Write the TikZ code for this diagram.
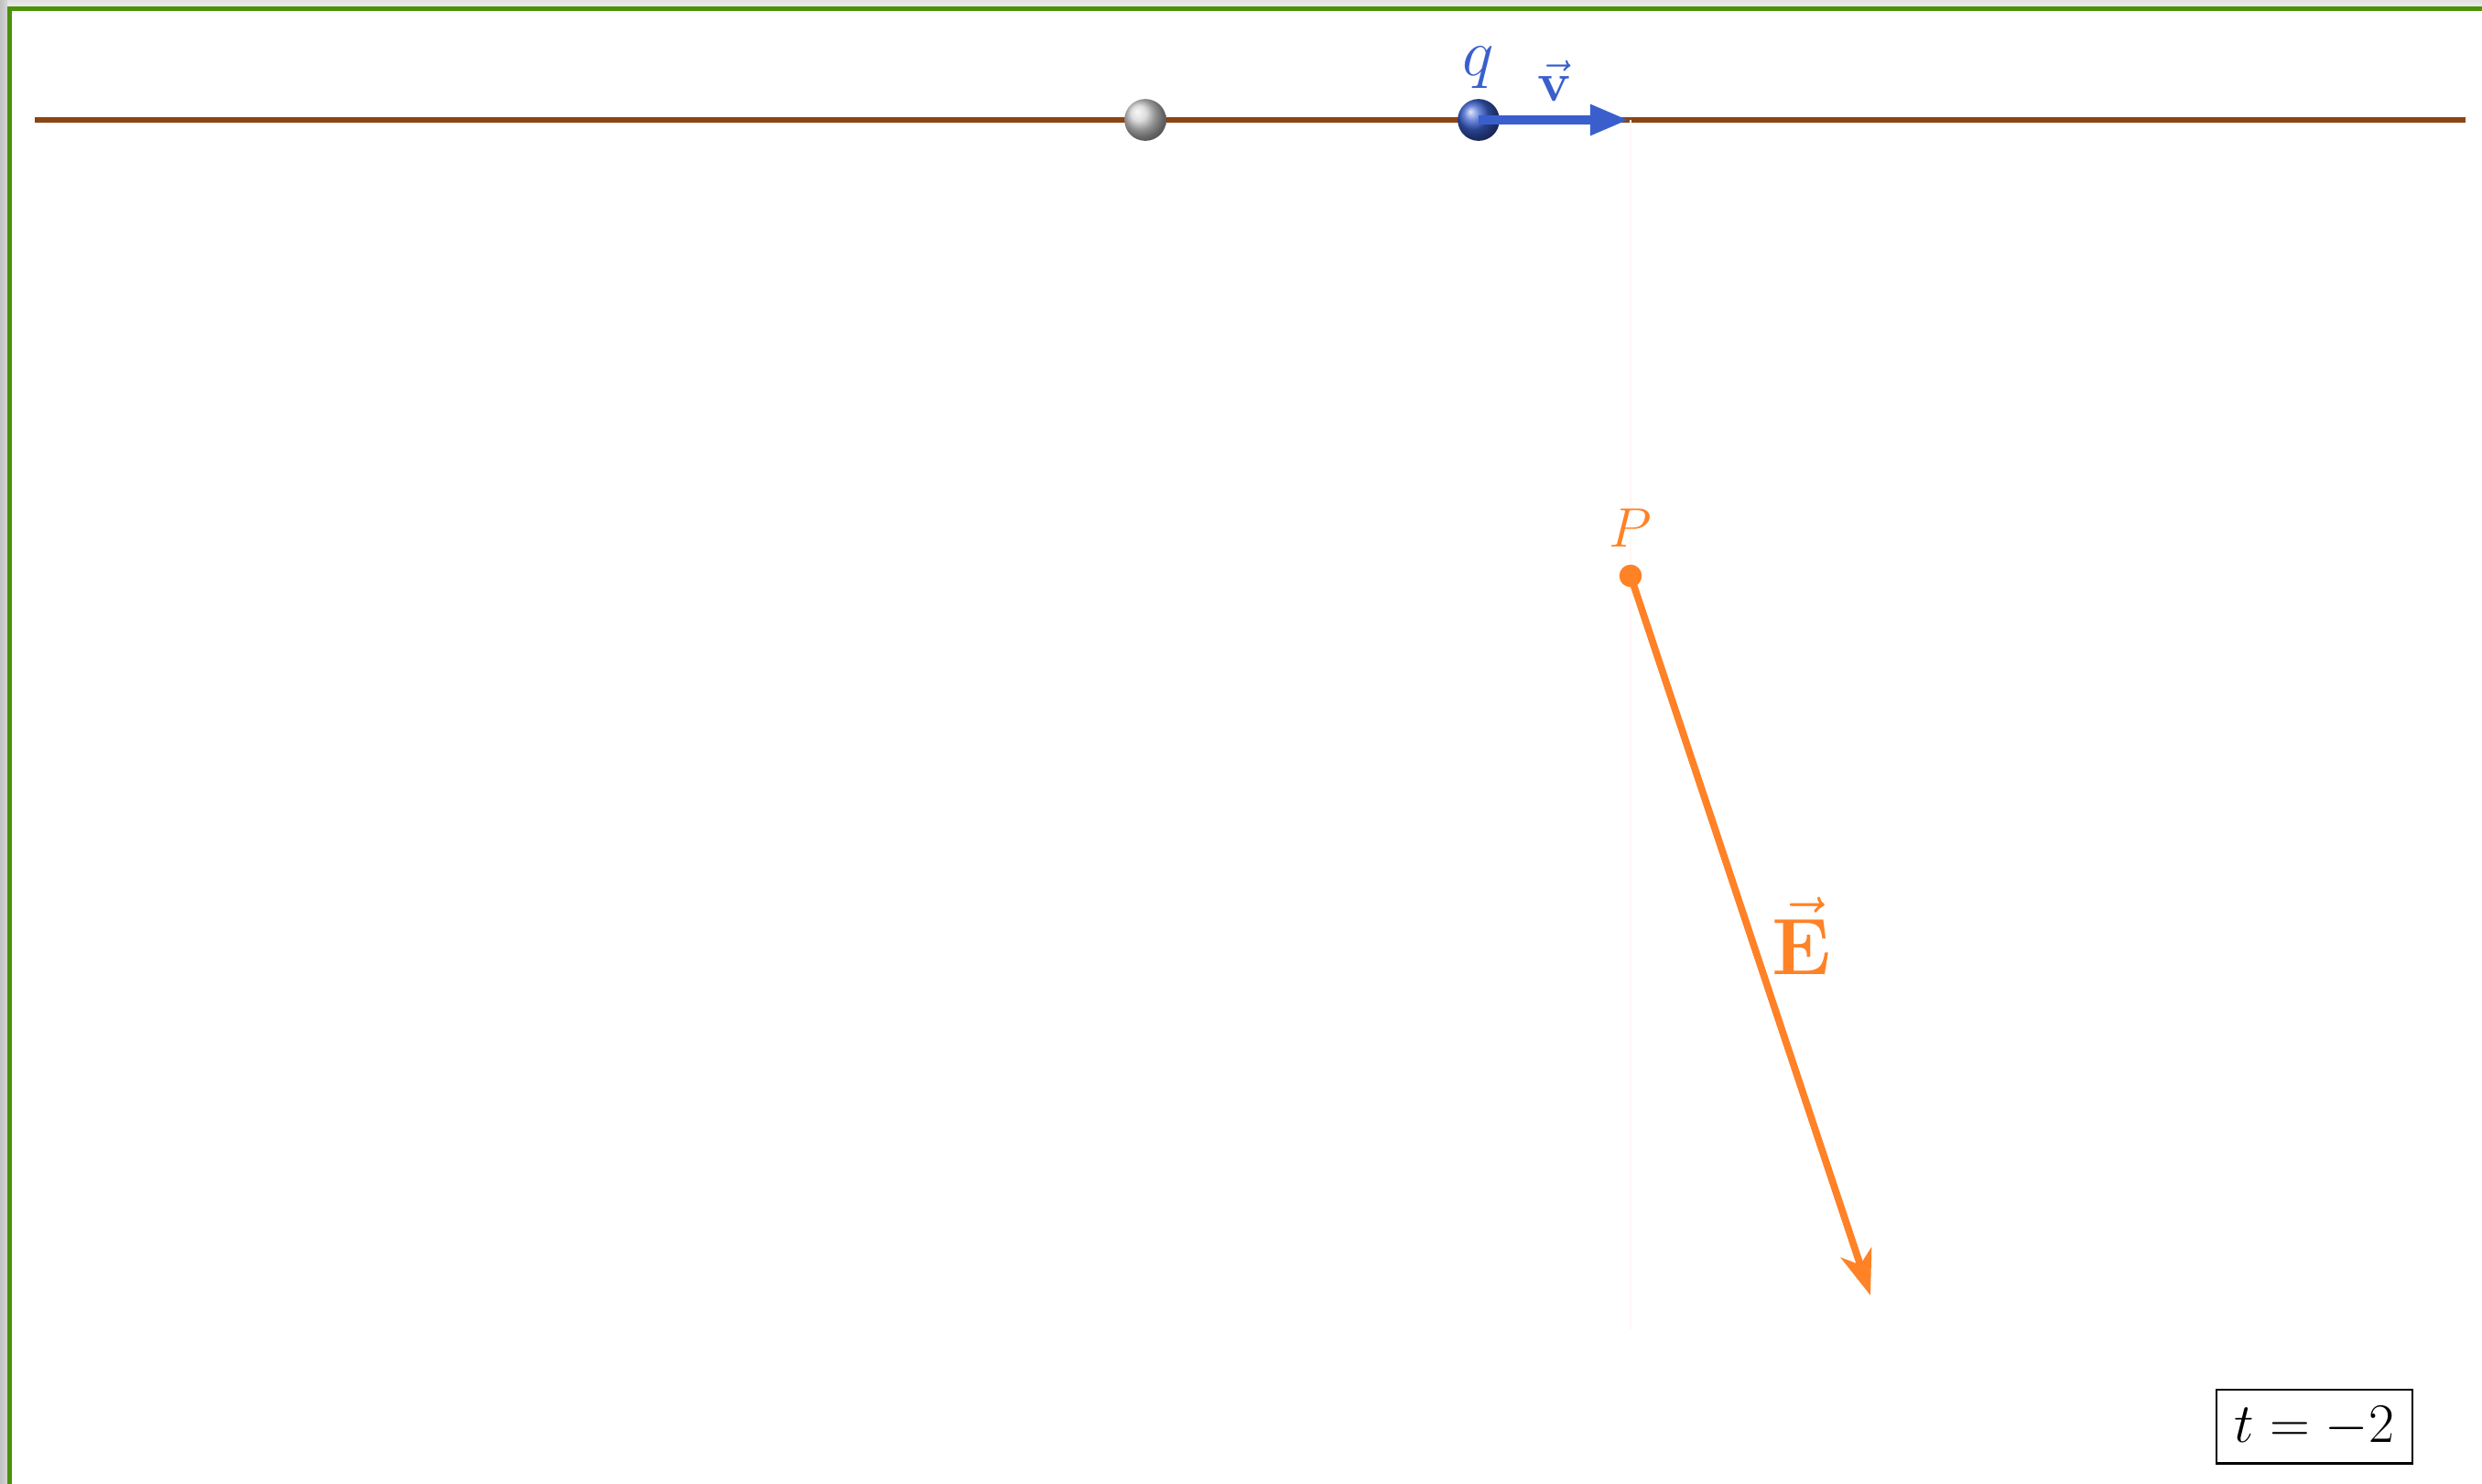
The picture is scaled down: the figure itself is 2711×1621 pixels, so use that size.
\documentclass[tikz,border=0pt]{standalone}
\usepackage{amsmath,amssymb}
\usepackage{xcolor}
\usetikzlibrary{positioning,calc,arrows.meta}

\definecolor{frameGreen}{RGB}{74,145,10}
\definecolor{wireBrown}{RGB}{139,69,19}
\definecolor{chargeBlue}{RGB}{58,95,205}
\definecolor{fieldOrange}{RGB}{255,130,38}

\begin{document}
\begin{tikzpicture}[x=0.01cm, y=-0.01cm,
  ball/.style={circle, inner sep=0pt, minimum size=13pt},
  bigfont/.style={font=\fontsize{23}{27}\selectfont}]
  \useasboundingbox (0,0) rectangle (2711,1621);

  % Window frame (top and left)
  \shade[top color=black!12, bottom color=black!7] (0,0) rectangle (2711,8);
  \shade[left color=black!24, right color=black!16] (0,0) rectangle (8,1621);
  \draw[frameGreen, line width=1.3pt] (10.5,1621) -- (10.5,9.5) -- (2711,9.5);

  % Track of the charge
  \coordinate (trackL) at (38,131);
  \coordinate (trackR) at (2693,131);
  \draw[wireBrown, line width=1.6pt] (trackL) -- (trackR);

  % Faint guide through P
  \coordinate (guideTop) at (1781,131);
  \coordinate (guideBot) at (1781,1452);
  \draw[red!3, line width=0.4pt] (guideTop) -- (guideBot);

  % Retarded position and charge q
  \node[ball, ball color=black!18] (ret) at (1251,131) {};
  \node[ball, ball color=chargeBlue] (q) at (1615,131) {};
  \node[text=chargeBlue, font=\huge] (qlbl) at (1615,74) {$q$};

  % Velocity
  \coordinate (vtip) at (1779,131);
  \draw[chargeBlue, line width=2.8pt, -{Triangle[length=12pt,width=9pt]}] (q.center) -- (vtip);
  \node[text=chargeBlue, font=\LARGE] (vlbl) at (1698,88) {$\vec{\mathbf{v}}$};

  % Field point P and field E
  \node[circle, fill=fieldOrange, inner sep=0pt, minimum size=7pt] (P) at (1781,629) {};
  \node[text=fieldOrange, font=\LARGE] (Plbl) at (1781,577) {$P$};
  \coordinate (Etip) at (2043,1415);
  \draw[fieldOrange, line width=2.2pt, -{Stealth[length=14pt,width=10pt,inset=4pt]}] (P.center) -- (Etip);
  \node[text=fieldOrange, bigfont] (Elbl) at (1968,1022) {$\vec{\mathbf{E}}$};

  % Time
  \node[draw, line width=0.6pt, minimum width=61pt, minimum height=23pt, font=\LARGE] (clock) at (2528,1558) {$t=-2$};
\end{tikzpicture}
\end{document}
